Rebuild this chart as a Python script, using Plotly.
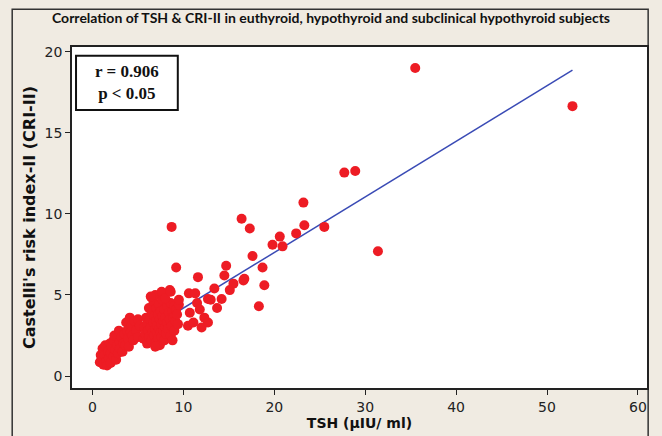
import plotly.graph_objects as go

# --- data ---
tsh = [
    # low cluster
    0.8, 0.9, 1.0, 1.1, 1.2, 1.3, 1.4, 1.5, 1.6, 1.7, 1.8, 1.9, 2.0, 2.0, 2.1, 2.3, 2.3, 2.4, 2.5,
    2.6, 2.7, 2.8, 2.9, 3.0, 3.0, 3.2, 3.3, 3.4, 3.5, 3.6, 3.7, 3.8, 3.9, 4.0, 4.1, 4.2, 4.3, 4.4,
    4.5, 4.6, 4.8, 5.0, 5.0, 5.2,
    # dense cluster
    5.6, 5.7, 5.8, 5.9, 6.0, 6.0, 6.1, 6.2, 6.2, 6.3, 6.4, 6.5, 6.5, 6.6, 6.7, 6.7, 6.8, 6.8, 6.9,
    6.9, 7.0, 7.0, 7.0, 7.1, 7.1, 7.2, 7.2, 7.3, 7.3, 7.4, 7.4, 7.5, 7.5, 7.6, 7.6, 7.7, 7.7, 7.8,
    7.8, 7.9, 7.9, 8.0, 8.0, 8.1, 8.2, 8.2, 8.3, 8.4, 8.5, 8.5, 8.6, 8.6, 8.7, 8.8, 8.9, 9.0, 9.0,
    9.1, 9.2, 9.3, 9.4, 9.5, 6.4, 7.6, 8.0, 6.9, 8.8,
    # middle / outliers
    8.7, 9.2, 8.6, 9.5, 10.5, 10.6, 10.7, 11.1, 11.3, 11.5, 11.6, 11.8, 12.0, 12.3, 12.7, 12.7,
    13.0, 13.4, 13.7, 14.2, 14.5, 14.7, 15.1, 15.5, 16.6, 16.7, 16.4, 17.3, 17.6, 18.7, 18.9, 18.3,
    19.8, 20.6, 20.9, 22.4, 23.2, 23.3, 25.5, 27.7, 28.9, 31.4, 35.5, 52.8,
]
cri2 = [
    0.85, 1.3, 1.1, 1.7, 0.7, 1.3, 1.9, 0.9, 0.65, 1.5, 1.1, 2.0, 0.8, 1.4, 1.8, 1.2, 2.2, 2.5, 1.6,
    1.0, 1.9, 1.4, 2.8, 2.1, 1.7, 2.4, 1.5, 2.0, 2.6, 1.9, 3.3, 2.8, 2.3, 1.8, 3.6, 2.7, 3.1, 2.5,
    2.2, 3.4, 2.8, 3.5, 2.4, 3.1,
    2.3, 3.0, 2.6, 3.6, 2.0, 3.2, 2.8, 4.2, 2.4, 3.5, 3.0, 2.2, 3.9, 2.7, 3.3, 4.6, 2.5, 3.7, 2.9,
    5.0, 2.1, 3.4, 4.2, 2.6, 3.1, 3.8, 2.3, 4.4, 2.9, 3.5, 1.9, 2.7, 4.0, 3.2, 2.4, 3.7, 4.7, 2.8,
    3.4, 2.2, 4.1, 3.0, 3.6, 2.6, 4.3, 3.3, 2.9, 3.9, 5.3, 3.5, 2.5, 4.5, 3.1, 4.0, 3.6, 2.8, 4.3,
    3.4, 4.1, 3.8, 3.2, 4.4, 4.9, 5.2, 4.8, 1.8, 2.2,
    9.2, 6.7, 5.2, 4.7, 3.1, 5.1, 3.9, 3.3, 5.1, 4.5, 6.1, 4.1, 3.0, 3.6, 3.3, 4.75,
    4.7, 5.4, 4.2, 4.75, 6.2, 6.8, 5.3, 5.7, 5.9, 6.0, 9.7, 9.1, 7.4, 6.7, 5.6, 4.3,
    8.1, 8.6, 8.0, 8.8, 10.7, 9.3, 9.2, 12.55, 12.65, 7.7, 19.0, 16.65,
]
fit_intercept = 0.76
fit_slope = 0.343
x_ticks = [0, 10, 20, 30, 40, 50, 60]
y_ticks = [0, 5, 10, 15, 20]

line_x = [min(tsh), max(tsh)]
line_y = [fit_intercept + fit_slope * v for v in line_x]

fig = go.Figure()
fig.add_trace(go.Scatter(x=line_x, y=line_y, mode="lines",
                         line=dict(color="#3a4bb5", width=1.5), hoverinfo="skip"))
fig.add_trace(go.Scatter(x=tsh, y=cri2, mode="markers",
                         marker=dict(color="#ed1c24", size=10, line=dict(width=0))))

axis_common = dict(showgrid=False, zeroline=False, showline=True, linecolor="#222",
                   linewidth=1.5, mirror=True, ticks="outside", ticklen=5, tickcolor="#222",
                   tickfont=dict(family="DejaVu Sans", size=14, color="#222"))

fig.update_layout(
    width=662, height=436,
    margin=dict(l=72, r=15, t=47, b=48),
    paper_bgcolor="#f0ebe2", plot_bgcolor="white",
    showlegend=False,
    title=dict(text="<b>Correlation of TSH &amp; CRI-II in euthyroid, hypothyroid and subclinical hypothyroid subjects</b>",
               x=0.5, xanchor="center", y=0.958, yanchor="middle",
               font=dict(family="Lato", size=14, color="#111")),
    xaxis=dict(range=[-2.26, 61.0], tickvals=x_ticks, **axis_common,
               title=dict(text="<b>TSH (µIU/ ml)</b>", standoff=1,
                          font=dict(family="DejaVu Sans", size=14, color="#111"))),
    yaxis=dict(range=[-0.74, 20.3], tickvals=y_ticks, **axis_common,
               title=dict(text="<b>Castelli's risk index-II (CRI-II)</b>", standoff=5,
                          font=dict(family="DejaVu Sans", size=16, color="#111"))),
)

# outer frame
fig.add_shape(type="rect", xref="paper", yref="paper", x0=-0.104, x1=1.002, y0=-0.3, y1=1.111,
              line=dict(color="#333", width=1.5), fillcolor="rgba(0,0,0,0)", layer="below")
# stats box
fig.add_shape(type="rect", xref="paper", yref="paper", x0=0.007, x1=0.184, y0=0.815, y1=0.974,
              line=dict(color="#111", width=2), fillcolor="white")
fig.add_annotation(xref="paper", yref="paper", x=0.0955, y=0.8945, xanchor="center",
                   yanchor="middle", showarrow=False,
                   text="<b>r = 0.906<br>p &lt; 0.05</b>", align="center",
                   font=dict(family="Liberation Serif", size=17, color="#111"))

fig.write_html("out.html")
